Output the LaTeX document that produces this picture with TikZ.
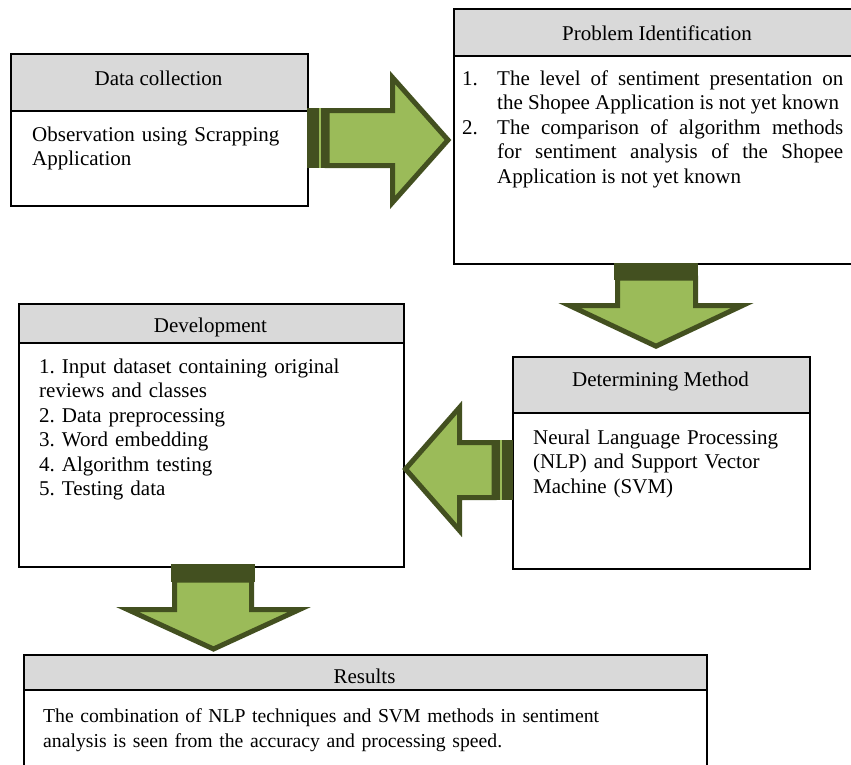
\documentclass[tikz,border=0pt]{standalone}
\usepackage{fontspec}
\setmainfont{Liberation Serif}
\definecolor{adark}{HTML}{435020}
\definecolor{alight}{HTML}{9BBB59}
\definecolor{hgray}{HTML}{D9D9D9}
\begin{document}
\frenchspacing
\begin{tikzpicture}[x=1pt,y=-1pt,
  boxbody/.style={draw=black,line width=1.5pt,fill=white,inner sep=0pt,anchor=north west},
  boxhead/.style={draw=black,line width=1.5pt,fill=hgray,inner sep=0pt,anchor=north west},
  headtext/.style={inner sep=0pt,anchor=base,font=\fontsize{21}{24.5}\selectfont},
  bodytext/.style={inner sep=0pt,anchor=base west,align=left,font=\fontsize{21}{24.5}\selectfont\frenchspacing},
  arrowbody/.style={draw=adark,fill=alight,line width=5pt,line join=miter},
  band/.style={fill=adark},
  bandline/.style={draw=alight,line width=1.2pt}]
\clip (0,0) rectangle (851,764);
% Data collection
\node[boxbody,minimum width=297pt,minimum height=152pt] (dc) at (10,53) {};
\node[boxhead,minimum width=297pt,minimum height=57pt] (dch) at (10,53) {};
\node[headtext] (dct) at (158.5,85) {Data collection};
\node[bodytext,text width=270pt] (dcb) at (32,141) {Observation using Scrapping\\Application};
% Problem Identification
\node[boxbody,minimum width=402pt,minimum height=255pt] (pi) at (453,8) {};
\node[boxhead,minimum width=402pt,minimum height=47pt] (pih) at (453,8) {};
\node[headtext] (pit) at (657,40) {Problem Identification};
\node[bodytext,text width=381pt,align=justify] (pib) at (462,85)
 {\noindent\hangindent=35pt\hangafter=1\makebox[35pt][l]{1.}The level of sentiment presentation on\linebreak the Shopee Application is not yet known\par
  \noindent\hangindent=35pt\hangafter=1\makebox[35pt][l]{2.}The comparison of algorithm methods\linebreak for sentiment analysis of the Shopee\linebreak Application is not yet known\par};
% Determining Method
\node[boxbody,minimum width=297pt,minimum height=212pt] (dm) at (512,356) {};
\node[boxhead,minimum width=297pt,minimum height=56pt] (dmh) at (512,356) {};
\node[headtext] (dmt) at (660.5,386) {Determining Method};
\node[bodytext,text width=270pt] (dmb) at (533,444) {Neural Language Processing\\(NLP) and Support Vector\\Machine (SVM)};
% Development
\node[boxbody,minimum width=385pt,minimum height=263pt] (dv) at (18,303) {};
\node[boxhead,minimum width=385pt,minimum height=39pt] (dvh) at (18,303) {};
\node[headtext] (dvt) at (210.5,332) {Development};
\node[bodytext,text width=360pt] (dvb) at (39,373) {1. Input dataset containing original\\reviews and classes\\2. Data preprocessing\\3. Word embedding\\4. Algorithm testing\\5. Testing data};
% Results
\node[boxbody,minimum width=683pt,minimum height=130pt] (rs) at (23,654) {};
\node[boxhead,minimum width=683pt,minimum height=35pt] (rsh) at (23,654) {};
\node[headtext] (rst) at (364.5,683) {Results};
\node[bodytext,text width=650pt,font=\fontsize{19.7}{25}\selectfont\frenchspacing] (rsb) at (43,722) {The combination of NLP techniques and SVM methods in sentiment\\analysis is seen from the accuracy and processing speed.};
% Arrow 1 (right)
\draw[arrowbody] (327,110.5) -- (392.5,110.5) -- (392.5,77.5) -- (448,140) -- (392.5,202.5) -- (392.5,165.5) -- (327,165.5) -- cycle;
\fill[band] (307,108) rectangle (329,168);
\draw[bandline] (320,108) -- (320,168);
% Arrow 2 (down)
\draw[arrowbody] (617.5,278) -- (617.5,305.5) -- (569.5,305.5) -- (656,346.2) -- (742.5,305.5) -- (695.5,305.5) -- (695.5,278) -- cycle;
\fill[band] (614,263) rectangle (698,280);
% Arrow 3 (left)
\draw[arrowbody] (494,442.5) -- (459.5,442.5) -- (459.5,407.5) -- (405.5,469) -- (459.5,530.5) -- (459.5,497.5) -- (494,497.5) -- cycle;
\fill[band] (492,440) rectangle (513,500);
\draw[bandline] (501,440) -- (501,500);
% Arrow 4 (down)
\draw[arrowbody] (174.5,580) -- (174.5,609.5) -- (127.5,609.5) -- (213.5,649) -- (299.5,609.5) -- (251.5,609.5) -- (251.5,580) -- cycle;
\fill[band] (171,564) rectangle (255,582);
\end{tikzpicture}
\end{document}
